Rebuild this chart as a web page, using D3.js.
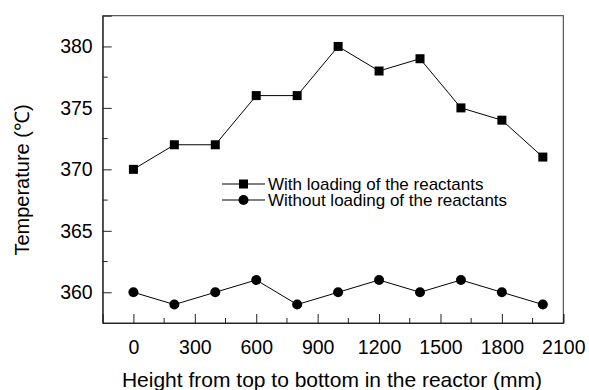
<!DOCTYPE html>
<html>
<head>
  <meta charset="utf-8">
  <title>Temperature profile</title>
  <style>
    body { margin: 0; background: #fff; }
    text { font-family: "Liberation Sans", Arial, sans-serif; fill: #000; }
  </style>
</head>
<body>
  <script src="https://d3js.org/d3.v7.min.js"></script>
  <script>
    var heights = [0, 200, 400, 600, 800, 1000, 1200, 1400, 1600, 1800, 2000];
    var withLoading = [370, 372, 372, 376, 376, 380, 378, 379, 375, 374, 371];
    var withoutLoading = [360, 359, 360, 361, 359, 360, 361, 360, 361, 360, 359];
    var xTicks = [0, 300, 600, 900, 1200, 1500, 1800, 2100];
    var yTicks = [360, 365, 370, 375, 380];
    var seriesNames = ["With loading of the reactants", "Without loading of the reactants"];

    var width = 589;
    var height = 390;
    var plotL = 102.7, plotR = 563.3, plotT = 15.7, plotB = 323;

    var svg = d3.select("body").append("svg")
      .attr("width", width).attr("height", height);

    var x = d3.scaleLinear().domain([-150, 2100]).range([plotL, plotR]);
    var y = d3.scaleLinear().domain([357.5, 382.5]).range([plotB, plotT]);

    // frame
    svg.append("rect")
      .attr("x", plotL).attr("y", plotT)
      .attr("width", plotR - plotL).attr("height", plotB - plotT)
      .attr("fill", "none").attr("stroke", "#333").attr("stroke-width", 1);

    // minor ticks
    var xMinor = d3.range(150, 2100, 300);
    var yMinor = d3.range(362.5, 382.5, 5);

    var xAxis = d3.axisBottom(x).tickValues(xTicks).tickSize(-9).tickPadding(17)
      .tickFormat(d3.format("d"));
    var gx = svg.append("g").attr("transform", "translate(0," + plotB + ")").call(xAxis);
    gx.select(".domain").attr("stroke", "#222");
    gx.selectAll(".tick line").attr("stroke", "#222");
    gx.selectAll("text").style("font-size", "19.5px").attr("font-family", null);
    gx.selectAll(".minor").data(xMinor).enter().append("line")
      .attr("class", "minor")
      .attr("x1", function(d) { return x(d); }).attr("x2", function(d) { return x(d); })
      .attr("y1", 0).attr("y2", -5).attr("stroke", "#222");

    var yAxis = d3.axisLeft(y).tickValues(yTicks).tickSize(-9).tickPadding(10);
    var gy = svg.append("g").attr("transform", "translate(" + plotL + ",0)").call(yAxis);
    gy.select(".domain").attr("stroke", "#222");
    gy.selectAll(".tick line").attr("stroke", "#222");
    gy.selectAll("text").style("font-size", "19.5px").attr("font-family", null);
    gy.selectAll(".minor").data(yMinor).enter().append("line")
      .attr("class", "minor")
      .attr("y1", function(d) { return y(d); }).attr("y2", function(d) { return y(d); })
      .attr("x1", 0).attr("x2", 5).attr("stroke", "#222");

    // axis titles
    svg.append("text")
      .attr("x", 332).attr("y", 386.5)
      .attr("text-anchor", "middle")
      .style("font-size", "21px")
      .text("Height from top to bottom in the reactor (mm)");

    svg.append("text")
      .attr("transform", "translate(29,180) rotate(-90)")
      .attr("text-anchor", "middle")
      .style("font-size", "20px")
      .text("Temperature (\u2103)");

    var line = d3.line()
      .x(function(d, i) { return x(heights[i]); })
      .y(function(d) { return y(d); });

    svg.append("path").datum(withLoading)
      .attr("d", line).attr("fill", "none").attr("stroke", "#000").attr("stroke-width", 1);
    svg.append("path").datum(withoutLoading)
      .attr("d", line).attr("fill", "none").attr("stroke", "#000").attr("stroke-width", 1);

    var sq = 9;
    svg.selectAll(".sq").data(withLoading).enter().append("rect")
      .attr("class", "sq")
      .attr("x", function(d, i) { return x(heights[i]) - sq / 2; })
      .attr("y", function(d) { return y(d) - sq / 2; })
      .attr("width", sq).attr("height", sq)
      .attr("fill", "#000");

    svg.selectAll(".dot").data(withoutLoading).enter().append("circle")
      .attr("class", "dot")
      .attr("cx", function(d, i) { return x(heights[i]); })
      .attr("cy", function(d) { return y(d); })
      .attr("r", 5).attr("fill", "#000");

    // legend
    var legend = svg.append("g").attr("transform", "translate(222,184)");
    seriesNames.forEach(function(name, i) {
      var row = legend.append("g").attr("transform", "translate(0," + (i * 16) + ")");
      row.append("line").attr("x1", 0).attr("x2", 43).attr("y1", 0).attr("y2", 0)
        .attr("stroke", "#000").attr("stroke-width", 1);
      if (i === 0) {
        row.append("rect").attr("x", 21.5 - sq / 2).attr("y", -sq / 2)
          .attr("width", sq).attr("height", sq).attr("fill", "#000");
      } else {
        row.append("circle").attr("cx", 21.5).attr("cy", 0).attr("r", 5).attr("fill", "#000");
      }
      row.append("text").attr("x", 46).attr("y", 5.5)
        .style("font-size", "17px")
        .text(name);
    });
  </script>
</body>
</html>
